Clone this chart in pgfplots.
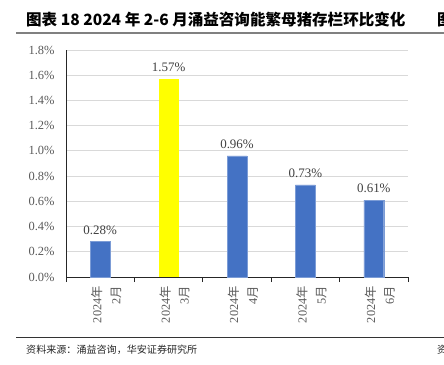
\documentclass[border=0pt]{standalone}
\usepackage{fontspec}
\setmainfont{Liberation Serif}
\newfontfamily\cjk{Noto Sans CJK SC}
\usepackage{pgfplots}
\pgfplotsset{compat=1.18}
\definecolor{barblue}{HTML}{4472C4}
\definecolor{baryellow}{HTML}{FFFF00}
\definecolor{txtgray}{HTML}{595959}
\definecolor{gridgray}{HTML}{D9D9D9}
\definecolor{rulegray}{HTML}{808080}
\begin{document}
\begin{tikzpicture}[x=1bp,y=1bp]
\path[use as bounding box] (0,0) rectangle (444,364);
% title
\node[anchor=west,inner sep=0pt,font={\cjk\bfseries\fontsize{15.6}{17}\selectfont}] at (26,344) {图表 18 2024 年 2-6 月涌益咨询能繁母猪存栏环比变化};
\node[anchor=west,inner sep=0pt,font={\cjk\bfseries\fontsize{15.6}{17}\selectfont}] at (437,344) {图};
\draw[rulegray,line width=1.5bp] (16,331) -- (450,331);
\draw[black!80,line width=1bp] (16,27) -- (450,27);
\node[anchor=west,inner sep=0pt,font={\cjk\fontsize{10.1}{12}\selectfont},text=black!85] at (26,14) {资料来源：涌益咨询，华安证券研究所};
\node[anchor=west,inner sep=0pt,font={\cjk\fontsize{10.1}{12}\selectfont},text=black!85] at (437,14) {资};
\begin{axis}[
  at={(66bp,87bp)}, anchor=south west,
  scale only axis, width=342bp, height=227bp,
  xmin=-0.5, xmax=4.5, ymin=0, ymax=1.8,
  axis lines*=left,
  axis line style={black!85,line width=0.9pt},
  ytick={0,0.2,...,1.8},
  ymajorgrids, grid style={gridgray,line width=0.8pt},
  major y tick style={draw=none},
  /pgf/number format/assume math mode=true,
  yticklabel={\pgfmathprintnumber[fixed,fixed zerofill,precision=1]{\tick}\%},
  yticklabel style={font=\fontsize{12.5}{14}\selectfont,text=txtgray,xshift=-8bp},
  xtick={0,1,2,3,4},
  major x tick style={draw=none},
  minor xtick={-0.5,0.5,1.5,2.5,3.5,4.5},
  minor x tick style={black!85,line width=0.9pt},
  minor tick length=5bp,
  xtick align=outside,
  xticklabels={{2024{\cjk 年}\\2{\cjk 月}},{2024{\cjk 年}\\3{\cjk 月}},{2024{\cjk 年}\\4{\cjk 月}},{2024{\cjk 年}\\5{\cjk 月}},{2024{\cjk 年}\\6{\cjk 月}}},
  xticklabel style={rotate=90,anchor=east,align=right,font=\fontsize{12.3}{19}\selectfont,text=txtgray,yshift=-6bp,xshift=-1.5bp},
  bar width=0.29,
  nodes near coords,
  nodes near coords style={font=\fontsize{13}{14}\selectfont,text=black!75,/pgf/number format/assume math mode=true,yshift=3.5bp},
  point meta=explicit symbolic,
]
\addplot[ybar,fill=barblue,draw=barblue!70!white,bar shift=0pt] coordinates {(0,0.28)[0.28\%] (2,0.96)[0.96\%] (3,0.73)[0.73\%] (4,0.61)[0.61\%]};
\addplot[ybar,fill=baryellow,draw=none,bar shift=0pt] coordinates {(1,1.57)[1.57\%]};
\end{axis}
\end{tikzpicture}
\end{document}
